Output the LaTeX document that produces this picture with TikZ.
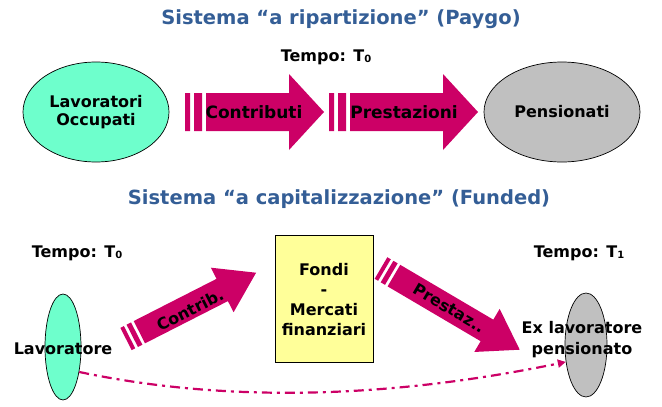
\documentclass[tikz,border=0pt]{standalone}
\usepackage{fontspec}
\setmainfont{DejaVu Sans}
\usetikzlibrary{arrows.meta,shapes.geometric}
\definecolor{ttl}{RGB}{52,94,150}
\definecolor{mag}{RGB}{204,0,102}
\definecolor{aqua}{RGB}{110,255,204}
\definecolor{grayf}{RGB}{192,192,192}
\definecolor{yel}{RGB}{255,255,153}
\newcommand\Tsub[1]{T\raisebox{-1.5pt}{\fontsize{10}{10}\selectfont #1}}
\tikzset{
  lbl/.style={font=\bfseries\fontsize{16}{18}\selectfont, inner sep=0pt, align=center},
  ttlstyle/.style={font=\bfseries\fontsize{19.5}{22}\selectfont, text=ttl, inner sep=0pt},
  oval/.style={draw=black, line width=0.7pt, ellipse, inner sep=0pt},
  arrtxt/.style={font=\bfseries\fontsize{17}{19}\selectfont, inner sep=0pt},
  arrfill/.style={fill=mag},
  flow/.style={draw=mag, line width=2.2pt, dash pattern=on 10pt off 5pt on 3pt off 5pt, -{Triangle[length=8pt,width=8pt]}}
}
\begin{document}
\begin{tikzpicture}[x=1pt,y=-1pt]
\useasboundingbox (0,0) rectangle (662,407);

% titles
\node[ttlstyle] (t1) at (341,19) {Sistema “a ripartizione” (Paygo)};
\node[ttlstyle] (t2) at (339,199) {Sistema “a capitalizzazione” (Funded)};

% top section
\node[lbl] (tempo0) at (326,57) {Tempo: \Tsub{0}};
\node[oval, fill=aqua, minimum width=146pt, minimum height=100pt] (occ) at (96,112) {};
\node[lbl] (occtxt) at (96,112) {Lavoratori\\Occupati};
\node[oval, fill=grayf, minimum width=156pt, minimum height=100pt] (pens) at (562,112) {};
\node[lbl] (penstxt) at (562,112) {Pensionati};

\begin{scope}[shift={(185,112)}]
  \fill[arrfill] (0,-19) rectangle (5,19) (9,-19) rectangle (17,19);
  \fill[arrfill] (21,-19) -- (104,-19) -- (104,-38) -- (139,0) -- (104,38) -- (104,19) -- (21,19) -- cycle;
\end{scope}
\node[arrtxt] (contr) at (254,112) {Contributi};

\begin{scope}[shift={(329,112)}]
  \fill[arrfill] (0,-19) rectangle (5,19) (9,-19) rectangle (17,19);
  \fill[arrfill] (21,-19) -- (114,-19) -- (114,-38) -- (149,0) -- (114,38) -- (114,19) -- (21,19) -- cycle;
\end{scope}
\node[arrtxt] (prest) at (404,112) {Prestazioni};

% bottom section
\node[lbl] (tempoL) at (77,253) {Tempo: \Tsub{0}};
\node[lbl] (tempoR) at (579,253) {Tempo: \Tsub{1}};

\node[draw=black, line width=0.7pt, fill=yel, minimum width=98pt, minimum height=127pt, inner sep=0pt] (fondi) at (324,298.5) {};
\node[lbl, font=\bfseries\fontsize{16}{20}\selectfont] (fonditxt) at (324,300) {Fondi\\-\\Mercati\\finanziari};

\node[oval, fill=aqua, minimum width=36pt, minimum height=106pt] (lav) at (63,347) {};
\node[lbl] (lavtxt) at (63,349) {Lavoratore};
\node[oval, fill=grayf, minimum width=42pt, minimum height=104pt] (exl) at (586,345) {};
\node[lbl, font=\bfseries\fontsize{16}{21}\selectfont] (exltxt) at (582,340) {Ex lavoratore\\pensionato};

% Contrib arrow
\begin{scope}[shift={(126,339)}, rotate=27]
  \fill[arrfill] (0,-12.5) rectangle (4,12.5) (7,-12.5) rectangle (12,12.5);
  \fill[arrfill] (15,-12.5) -- (108,-12.5) -- (108,-25) -- (146,0) -- (108,25) -- (108,12.5) -- (15,12.5) -- cycle;
\end{scope}
\node[arrtxt, font=\bfseries\fontsize{16}{18}\selectfont, rotate=27] (contrib) at (190,310) {Contrib.};

% Prestaz arrow
\begin{scope}[shift={(381,268)}, rotate=-30.5]
  \fill[arrfill] (0,-12.5) rectangle (4,12.5) (7,-12.5) rectangle (12,12.5);
  \fill[arrfill] (15,-12.5) -- (123,-12.5) -- (123,-25) -- (161,0) -- (123,25) -- (123,12.5) -- (15,12.5) -- cycle;
\end{scope}
\node[arrtxt, font=\bfseries\fontsize{16}{18}\selectfont, rotate=-30.5] (prestaz) at (449,308) {Prestaz..};

% dash-dot flow
\draw[flow] (lav.-57) .. controls (250,408) and (420,392) .. (exl.-140);
\end{tikzpicture}
\end{document}
